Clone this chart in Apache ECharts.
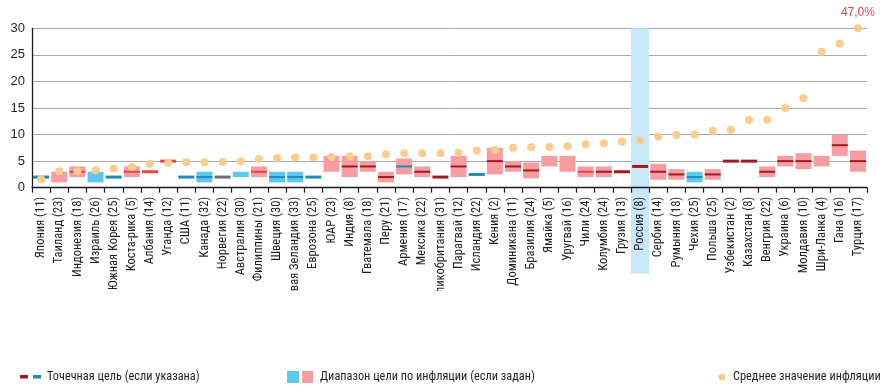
<!DOCTYPE html>
<html><head><meta charset="utf-8">
<script src="https://cdn.jsdelivr.net/npm/echarts@6/dist/echarts.min.js"></script>
<style>html,body{margin:0;padding:0;background:#fff}#c{width:893px;height:392px}</style>
</head><body><div id="c"></div>
<script>
const categories = ['Япония (11)','Таиланд (23)','Индонезия (18)','Израиль (26)','Южная Корея (25)','Коста-рика (5)','Албания (14)','Уганда (12)','США (11)','Канада (32)','Норвегия (22)','Австралия (30)','Филиппины (21)','Швеция (30)','Новая Зеландия (33)','Еврозона (25)','ЮАР (23)','Индия (8)','Гватемала (18)','Перу (21)','Армения (17)','Мексика (22)','Великобритания (31)','Парагвай (12)','Исландия (22)','Кения (2)','Доминикана (11)','Бразилия (24)','Ямайка (5)','Уругвай (16)','Чили (24)','Колумбия (24)','Грузия (13)','Россия (8)','Сербия (14)','Румыния (18)','Чехия (25)','Польша (25)','Узбекистан (2)','Казахстан (8)','Венгрия (22)','Украина (6)','Молдавия (10)','Шри-Ланка (4)','Гана (16)','Турция (17)'];
const rangeLow  = [null,1,2,1,null,2,null,null,null,1,null,2,2,1,1,null,3,2,3,1,2.5,2,null,2,null,2.5,3,1.75,4,3,2,2,null,null,1.5,1.5,1,1.5,null,null,2,4,3.5,4,6,3];
const rangeHigh = [null,3,4,3,null,4,null,null,null,3,null,3,4,3,3,null,6,6,5,3,5.5,4,null,6,null,7.5,5,4.75,6,6,4,4,null,null,4.5,3.5,3,3.5,null,null,4,6,6.5,6,10,7];
const rangeKind = [null,'pink','pink','blue',null,'pink',null,null,null,'blue',null,'blue','pink','blue','blue',null,'pink','pink','pink','pink','pink','pink',null,'pink',null,'pink','pink','pink','pink','pink','pink','pink',null,null,'pink','pink','blue','pink',null,null,'pink','pink','pink','pink','pink','pink'];
const pointTarget = [2,null,3,null,2,3,3,5,2,2,2,null,3,2,2,2,null,4,4,2,4,3,2,4,2.5,5,4,3.25,null,null,3,3,3,4,3,2.5,2,2.5,5,5,3,5,5,null,8,5];
const pointKind = ['teal',null,'red',null,'teal','red','red','red','teal','teal','gray',null,'red','teal','teal','teal',null,'dark','dark','dark','teal','dark','dark','dark','teal','dark','dark','dark',null,null,'red','dark','dark','dark','dark','dark','teal','dark','dark','dark','dark','dark','dark',null,'dark','dark'];
const avgInflation = [1.6,3.1,3.1,3.3,3.6,3.9,4.5,4.7,4.8,4.8,4.85,5.0,5.4,5.6,5.7,5.7,5.8,5.85,5.9,6.3,6.5,6.5,6.5,6.6,7.0,7.1,7.5,7.6,7.65,7.8,8.2,8.35,8.7,8.9,9.6,9.9,10.0,10.7,10.9,12.75,12.8,15.0,16.9,25.6,27.1,47.0];
const yTicks = [0,5,10,15,20,25,30];
const highlightCategory = 'Россия (8)';
const legendTexts = ['Точечная цель (если указана)','Диапазон цели по инфляции (если задан)','Среднее значение инфляции'];

const Y_MAX = yTicks[yTicks.length-1];
const COLORS = {pink:'#F59DA1', blue:'#5CC8EE', teal:'#1A8CB8', red:'#E8444A', dark:'#A3191E', gray:'#6D6E70', avg:'#FFCB8E', band:'#C6E8F8'};
const FONT = '"Liberation Sans Narrow","Arial Narrow","Roboto Condensed","Liberation Sans",sans-serif';

const rangeData = [];
categories.forEach((c,i)=>{ if(rangeLow[i]!=null) rangeData.push([i, rangeLow[i], rangeHigh[i], rangeKind[i]==='blue'?1:0]); });
const kinds = ['teal','red','dark','gray'];
const pointData = [];
categories.forEach((c,i)=>{ if(pointTarget[i]!=null) pointData.push([i, pointTarget[i], kinds.indexOf(pointKind[i]), rangeLow[i]!=null?1:0]); });
const avgData = avgInflation.map((v,i)=>({value:[i, Math.min(v, Y_MAX)], real:v}));
const hIdx = categories.indexOf(highlightCategory);

const chart = echarts.init(document.getElementById('c'));
chart.setOption({
  animation:false,
  grid:{left:32, right:26, top:28.3, bottom:204.3},
  xAxis:{type:'category', data:categories, z:3,
    axisLine:{lineStyle:{color:'#1a1a1a', width:1.3}},
    axisTick:{show:true, length:5, interval:0, lineStyle:{color:'#1a1a1a', width:1.2}},
    axisLabel:{rotate:90, interval:0, margin:9, fontSize:12.5, color:'#231F20', fontFamily:FONT}},
  yAxis:{type:'value', min:yTicks[0], max:Y_MAX, interval:yTicks[1]-yTicks[0],
    axisLine:{show:true, lineStyle:{color:'#1a1a1a', width:1.3}},
    axisTick:{show:false},
    axisLabel:{fontSize:13, color:'#231F20', margin:7, fontFamily:'"Liberation Sans",Arial,sans-serif'},
    splitLine:{lineStyle:{color:'#A7A9AC', width:1}}},
  series:[
    {type:'custom', z:1, clip:false, silent:true, data:[[hIdx]], encode:{x:0},
      renderItem:function(p, api){
        const i = api.value(0);
        const t = api.coord([i, Y_MAX]); const b = api.coord([i, 0]);
        const w = api.size([1,0])[0];
        return {type:'rect', shape:{x:t[0]-w/2, y:t[1], width:w, height:b[1]-t[1]+86}, style:{fill:COLORS.band}};
      }},
    {type:'custom', z:2, data:rangeData, encode:{x:0, y:[1,2]},
      renderItem:function(p, api){
        const i = api.value(0);
        const t = api.coord([i, api.value(2)]); const b = api.coord([i, api.value(1)]);
        const w = api.size([1,0])[0]*0.88;
        return {type:'rect', shape:{x:t[0]-w/2, y:t[1], width:w, height:b[1]-t[1]}, style:{fill: api.value(3)?COLORS.blue:COLORS.pink}};
      }},
    {type:'custom', z:3, data:pointData, encode:{x:0, y:1},
      renderItem:function(p, api){
        const i = api.value(0);
        const c = api.coord([i, api.value(1)]);
        const w = api.size([1,0])[0]*0.88;
        const h = api.value(3) ? 2 : 3;
        return {type:'rect', shape:{x:c[0]-w/2, y:c[1]-h/2, width:w, height:h}, style:{fill: COLORS[kinds[api.value(2)]]}};
      }},
    {type:'scatter', z:4, symbolSize:8, itemStyle:{color:COLORS.avg, opacity:1}, data:avgData,
      label:{show:true, position:'top', distance:6, color:'#E8444A', fontSize:12, fontFamily:'"Liberation Sans",Arial,sans-serif',
        formatter:function(p){ return p.data.real>Y_MAX ? p.data.real.toFixed(1).replace('.',',')+'%' : ''; }}}
  ],
  graphic:[
    {type:'rect', z:100, shape:{x:0, y:291, width:893, height:60}, style:{fill:'#fff'}},
    {type:'rect', z:101, shape:{x:20, y:375, width:8, height:3.5}, style:{fill:COLORS.dark}},
    {type:'rect', z:101, shape:{x:33, y:375, width:8, height:3.5}, style:{fill:COLORS.teal}},
    {type:'text', z:101, x:47, y:371, style:{text:legendTexts[0], fill:'#231F20', font:'12.3px '+FONT}},
    {type:'rect', z:101, shape:{x:287, y:371, width:12, height:12}, style:{fill:COLORS.blue}},
    {type:'rect', z:101, shape:{x:302, y:371, width:11, height:12}, style:{fill:COLORS.pink}},
    {type:'text', z:101, x:320, y:371, style:{text:legendTexts[1], fill:'#231F20', font:'12.3px '+FONT}},
    {type:'circle', z:101, shape:{cx:722, cy:377, r:3.5}, style:{fill:COLORS.avg}},
    {type:'text', z:101, x:733, y:371, style:{text:legendTexts[2], fill:'#231F20', font:'12.3px '+FONT}}
  ]
});
</script></body></html>
